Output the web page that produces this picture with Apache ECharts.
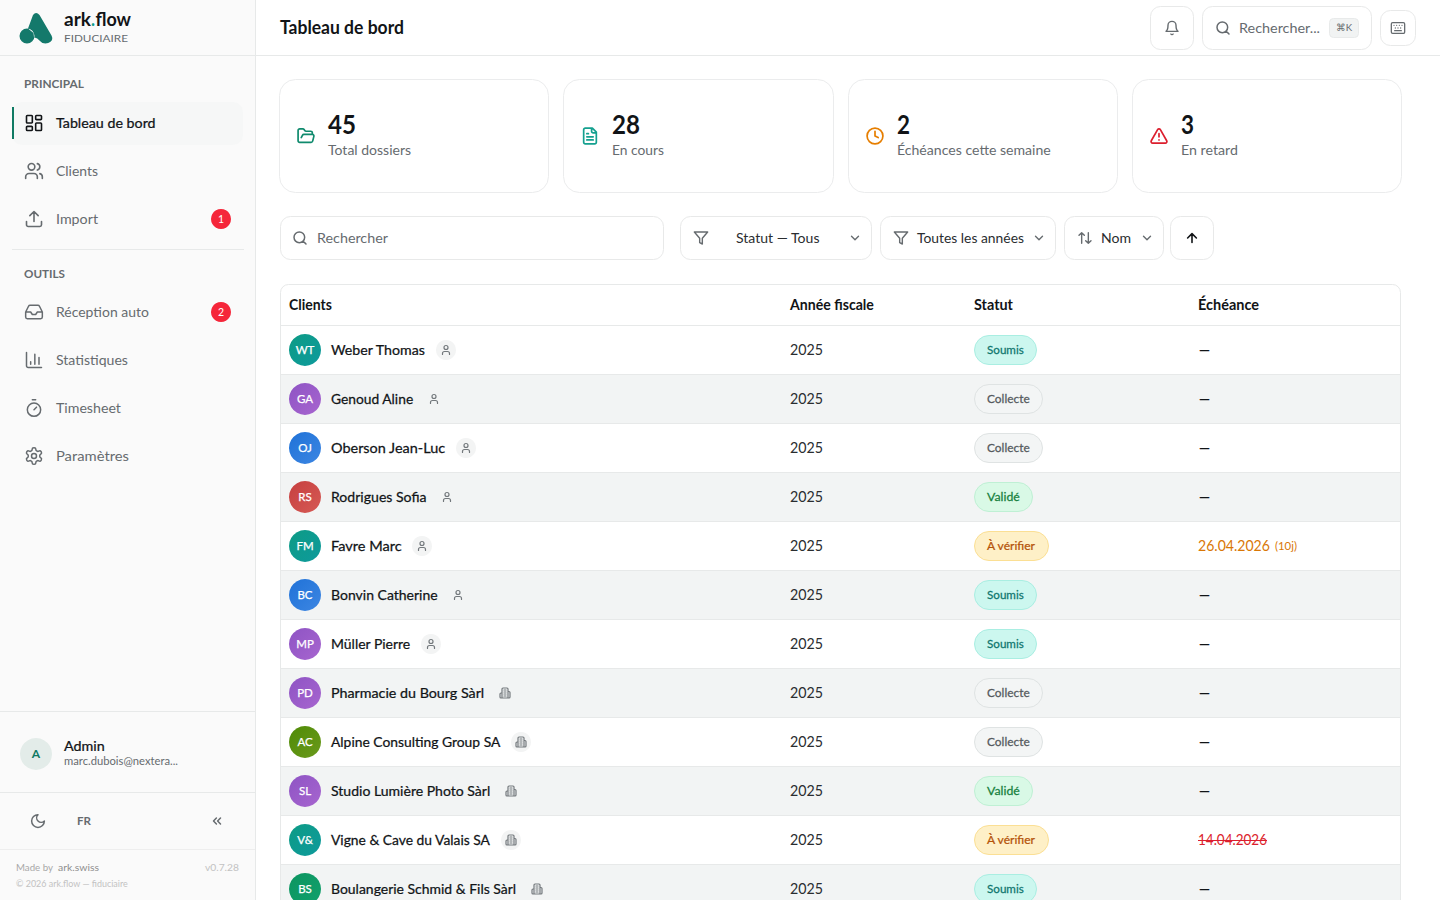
<!DOCTYPE html>
<html lang="fr"><head><meta charset="utf-8"><title>Tableau de bord</title>
<style>html,body{margin:0;padding:0;background:#fff;overflow:hidden}#c{width:1440px;height:900px}</style>
<script src="https://cdn.jsdelivr.net/npm/echarts@6/dist/echarts.min.js"></script></head>
<body><div id="c"></div>
<script>
// ---- data ----
const clients = ['Weber Thomas','Genoud Aline','Oberson Jean-Luc','Rodrigues Sofia','Favre Marc','Bonvin Catherine','Müller Pierre','Pharmacie du Bourg Sàrl','Alpine Consulting Group SA','Studio Lumière Photo Sàrl','Vigne & Cave du Valais SA','Boulangerie Schmid & Fils Sàrl'];
const initials = ['WT','GA','OJ','RS','FM','BC','MP','PD','AC','SL','V&','BS'];
const clientKinds = ['person','person','person','person','person','person','person','company','company','company','company','company'];
const fiscalYears = ['2025','2025','2025','2025','2025','2025','2025','2025','2025','2025','2025','2025'];
const statuses = ['Soumis','Collecte','Collecte','Validé','À vérifier','Soumis','Soumis','Collecte','Collecte','Validé','À vérifier','Soumis'];
const deadlines = ['—','—','—','—','26.04.2026','—','—','—','—','—','14.04.2026','—'];
const deadlineNotes = ['','','','','(10j)','','','','','','',''];
const deadlineStates = ['','','','','soon','','','','','','late',''];
const avatarHues = ['teal','purple','blue','red','teal','blue','purple','purple','olive','purple','teal','green'];
const tableHeaders = ['Clients','Année fiscale','Statut','Échéance'];
const kpiValues = ['45','28','2','3'];
const kpiLabels = ['Total dossiers','En cours','Échéances cette semaine','En retard'];
const navMain = ['Tableau de bord','Clients','Import'];
const navTools = ['Réception auto','Statistiques','Timesheet','Paramètres'];
const importBadge = '1', inboxBadge = '2';

// ---- styles ----
const FONT = 'Lato';
const INK = '#111417', MUTED = '#666b6f', LINE = '#e7e9e9', TEAL = '#0f766e';
const HUES = {teal:['#0d9b85','#0e9a9c'],purple:['#8e54c4','#a765cf'],blue:['#1f72d8','#3d86e2'],red:['#c63f3f','#d65a55'],olive:['#4f8a06','#6a9a1c'],green:['#0b9560','#12a06c']};
const PILLS = {
  'Soumis':{w:63,bg:'#ccf7ef',bd:'#a9eee2',fg:'#0f766e'},
  'Collecte':{w:69,bg:'#f3f5f5',bd:'#dfe3e3',fg:'#555a5e'},
  'Validé':{w:59,bg:'#d9f9e6',bd:'#bff0d4',fg:'#15803d'},
  'À vérifier':{w:75,bg:'#fef0c7',bd:'#fbdf94',fg:'#b45309'}
};
const columnOffsets = [9,510,694,918];
const NAME_SIZE = 14;
const labelFit = [95,83,115,96,71,107,80,154,170,160,160,186];
const ICONS = {
 dash:'M4 3h5a1 1 0 0 1 1 1v7a1 1 0 0 1-1 1H4a1 1 0 0 1-1-1V4a1 1 0 0 1 1-1zM15 3h5a1 1 0 0 1 1 1v3a1 1 0 0 1-1 1h-5a1 1 0 0 1-1-1V4a1 1 0 0 1 1-1zM15 12h5a1 1 0 0 1 1 1v7a1 1 0 0 1-1 1h-5a1 1 0 0 1-1-1v-7a1 1 0 0 1 1-1zM4 16h5a1 1 0 0 1 1 1v3a1 1 0 0 1-1 1H4a1 1 0 0 1-1-1v-3a1 1 0 0 1 1-1z',
 users:'M16 21v-2a4 4 0 0 0-4-4H6a4 4 0 0 0-4 4v2M16 3.128a4 4 0 0 1 0 7.744M22 21v-2a4 4 0 0 0-3-3.87M5 7a4 4 0 1 0 8 0a4 4 0 1 0-8 0',
 upload:'M21 15v4a2 2 0 0 1-2 2H5a2 2 0 0 1-2-2v-4M17 8l-5-5-5 5M12 3v12',
 inbox:'M22 12h-6l-2 3h-4l-2-3H2M5.45 5.11 2 12v6a2 2 0 0 0 2 2h16a2 2 0 0 0 2-2v-6l-3.45-6.89A2 2 0 0 0 16.76 4H7.24a2 2 0 0 0-1.79 1.11z',
 chart:'M3 3v16a2 2 0 0 0 2 2h16M18 17V9M13 17V5M8 17v-3',
 timer:'M10 2h4M12 14l3-3M4 14a8 8 0 1 0 16 0a8 8 0 1 0-16 0',
 gear:'M12.22 2h-.44a2 2 0 0 0-2 2v.18a2 2 0 0 1-1 1.73l-.43.25a2 2 0 0 1-2 0l-.15-.08a2 2 0 0 0-2.73.73l-.22.38a2 2 0 0 0 .73 2.73l.15.1a2 2 0 0 1 1 1.72v.51a2 2 0 0 1-1 1.74l-.15.09a2 2 0 0 0-.73 2.73l.22.38a2 2 0 0 0 2.73.73l.15-.08a2 2 0 0 1 2 0l.43.25a2 2 0 0 1 1 1.73V20a2 2 0 0 0 2 2h.44a2 2 0 0 0 2-2v-.18a2 2 0 0 1 1-1.73l.43-.25a2 2 0 0 1 2 0l.15.08a2 2 0 0 0 2.73-.73l.22-.39a2 2 0 0 0-.73-2.73l-.15-.08a2 2 0 0 1-1-1.74v-.5a2 2 0 0 1 1-1.74l.15-.09a2 2 0 0 0 .73-2.73l-.22-.38a2 2 0 0 0-2.73-.73l-.15.08a2 2 0 0 1-2 0l-.43-.25a2 2 0 0 1-1-1.73V4a2 2 0 0 0-2-2zM9 12a3 3 0 1 0 6 0a3 3 0 1 0-6 0',
 moon:'M12 3a6 6 0 0 0 9 9 9 9 0 1 1-9-9Z',
 chevs:'M11 17l-5-5 5-5M18 17l-5-5 5-5',
 bell:'M6 8a6 6 0 0 1 12 0c0 7 3 9 3 9H3s3-2 3-9M10.3 21a1.94 1.94 0 0 0 3.4 0',
 search:'M3 11a8 8 0 1 0 16 0a8 8 0 1 0-16 0M21 21l-4.3-4.3',
 keyboard:'M4 4h16a2 2 0 0 1 2 2v12a2 2 0 0 1-2 2H4a2 2 0 0 1-2-2V6a2 2 0 0 1 2-2zM6 8h.01M10 8h.01M14 8h.01M18 8h.01M8 12h.01M12 12h.01M16 12h.01M7 16h10',
 folder:'M6 14l1.5-2.9A2 2 0 0 1 9.24 10H20a2 2 0 0 1 1.94 2.5l-1.54 6a2 2 0 0 1-1.95 1.5H4a2 2 0 0 1-2-2V5a2 2 0 0 1 2-2h3.9a2 2 0 0 1 1.69.9l.81 1.2a2 2 0 0 0 1.67.9H18a2 2 0 0 1 2 2v2',
 file:'M15 2H6a2 2 0 0 0-2 2v16a2 2 0 0 0 2 2h12a2 2 0 0 0 2-2V7ZM14 2v4a2 2 0 0 0 2 2h4M10 9H8M16 13H8M16 17H8',
 clock:'M2 12a10 10 0 1 0 20 0a10 10 0 1 0-20 0M12 6v6l4 2',
 alert:'M21.73 18l-8-14a2 2 0 0 0-3.48 0l-8 14A2 2 0 0 0 4 21h16a2 2 0 0 0 1.73-3M12 9v4M12 17h.01',
 funnel:'M22 3H2l8 9.46V19l4 2v-8.54L22 3z',
 chevron:'M6 9l6 6 6-6',
 sort:'M21 16l-4 4-4-4M17 20V4M3 8l4-4 4 4M7 4v16',
 up:'M5 12l7-7 7 7M12 19V5',
 user:'M19 21v-2a4 4 0 0 0-4-4H9a4 4 0 0 0-4 4v2M8 7a4 4 0 1 0 8 0a4 4 0 1 0-8 0',
 company:'M6 22V4a2 2 0 0 1 2-2h8a2 2 0 0 1 2 2v18ZM6 12H4a2 2 0 0 0-2 2v6a2 2 0 0 0 2 2h2M18 9h2a2 2 0 0 1 2 2v9a2 2 0 0 1-2 2h-2M10 6h4M10 10h4M10 14h4M10 18h4'
};
const LOGO = 'M33 15Q36 11 39.5 15L51.5 35.5Q53.5 39.5 50.5 41.8Q48.5 43.5 45.5 43.5Q42 43.5 40 41Q37.5 37.6 34 37.2L33.5 33L28 28.6ZM19.5 36a7.5 7.5 0 1 0 15 0a7.5 7.5 0 1 0-15 0';

// ---- helpers ----
const mctx = document.createElement('canvas').getContext('2d');
function measure(s,size,weight){mctx.font=weight+' '+size+'px '+FONT;return mctx.measureText(s).width;}
function T(s,x,y,size,weight,fill,w){
  const k = w ? w/measure(s,size,weight) : 1;
  const medium = weight===500;
  return {type:'text',x:x,y:y-0.7,scaleX:k,z2:5,style:{text:s,x:0,y:0,fill:fill,stroke:medium?fill:'none',lineWidth:medium?0.25:0,fontFamily:FONT,fontSize:size,fontWeight:medium?400:weight,textAlign:'left',textVerticalAlign:'middle'}};
}
function TC(s,cx,y,size,weight,fill){
  const medium = weight===500;
  return {type:'text',x:cx,y:y-0.2,z2:5,style:{text:s,x:0,y:0,fill:fill,stroke:medium?fill:'none',lineWidth:medium?0.25:0,fontFamily:FONT,fontSize:size,fontWeight:medium?400:weight,textAlign:'center',textVerticalAlign:'middle'}};
}
function icon(name,cx,cy,size,color,lw){
  return {type:'path',z2:4,shape:{pathData:'M0 0M24 24'+ICONS[name],x:cx-size/2,y:cy-size/2,width:size,height:size,layout:'cover'},style:{fill:'none',stroke:color,lineWidth:lw||1.5,lineCap:'round',lineJoin:'round'}};
}
function box(x,y,w,h,r,fill,stroke){return {type:'rect',z2:2,shape:{x:x,y:y,width:w,height:h,r:r},style:{fill:fill||'none',stroke:stroke||'none',lineWidth:stroke?1:0}};}
function hline(x1,x2,y,c){return {type:'line',z2:3,shape:{x1:x1,y1:y,x2:x2,y2:y},style:{stroke:c||LINE,lineWidth:1}};}
function vline(x,y1,y2,c){return {type:'line',z2:3,shape:{x1:x,y1:y1,x2:x,y2:y2},style:{stroke:c||LINE,lineWidth:1}};}

// ---- static page furniture ----
function renderChrome(){
  const c = [];
  // sidebar
  c.push(box(0,0,255,900,0,'#fafafa'));
  c.push(vline(255.5,0,900));
  c.push(hline(0,255,55.5), hline(256,1440,55.5));
  c.push({type:'path',z2:4,shape:{pathData:'M0 0M60 60'+LOGO,x:0,y:0,width:60,height:60,layout:'cover'},style:{fill:'#14796b'}});
  c.push(T('ark',64,20,18,700,INK,27), T('.',91,20,18,700,'#0f9d8a',4), T('flow',95.5,20,18,700,INK,35.5));
  c.push(T('FIDUCIAIRE',64,38.5,10,400,MUTED,64));
  c.push(T('PRINCIPAL',24,84.5,10.5,700,MUTED,60));
  c.push(box(12,102,231,43,10,'#f6f7f7'));
  c.push({type:'rect',z2:3,shape:{x:12,y:107,width:2,height:32},style:{fill:'#0f7a63'}});
  const mainIcons=['dash','users','upload'], mainY=[123,171,219], mainW=[100,42,42];
  navMain.forEach((s,i)=>{
    c.push(icon(mainIcons[i],34,mainY[i],20,i?MUTED:INK,1.6));
    c.push(T(s,56,mainY[i],14,i?400:500,i?MUTED:INK,mainW[i]));
  });
  c.push({type:'circle',z2:3,shape:{cx:221,cy:219,r:10},style:{fill:'#f5263a'}}, TC(importBadge,221,219,10.5,400,'#fff'));
  c.push(hline(12,244,249.5));
  c.push(T('OUTILS',24,274.5,10.5,700,MUTED,41));
  const toolIcons=['inbox','chart','timer','gear'], toolY=[312,360,408,456], toolW=[93,72,65,73];
  navTools.forEach((s,i)=>{
    c.push(icon(toolIcons[i],34,toolY[i],20,MUTED,1.5));
    c.push(T(s,56,toolY[i],14,400,MUTED,toolW[i]));
  });
  c.push({type:'circle',z2:3,shape:{cx:221,cy:312,r:10},style:{fill:'#f5263a'}}, TC(inboxBadge,221,312,10.5,400,'#fff'));
  c.push(hline(0,255,711.5));
  c.push({type:'circle',z2:3,shape:{cx:36,cy:754,r:16},style:{fill:'#e3ece9'}}, TC('A',36,754,12,700,'#0f7a63'));
  c.push(T('Admin',64,746,14,500,INK,41), T('marc.dubois@nextera...',64,761,11,400,MUTED,114));
  c.push(hline(0,255,792.5));
  c.push(icon('moon',38,821,17,MUTED,1.5), T('FR',77,821,12,700,MUTED,14), icon('chevs',217,821,14,MUTED,1.5));
  c.push(hline(0,255,849.5,'#eeeeee'));
  c.push(T('Made by',16,868,10,400,'#a8a8a8',37), T('ark.swiss',58,868,10,400,'#8f8f8f',41), T('v0.7.28',205,868,10,400,'#c2c2c2',34));
  c.push(T('© 2026 ark.flow — fiduciaire',16,884,9.5,400,'#c2c2c2',112));
  // header
  c.push(T('Tableau de bord',280,27.5,19,700,INK,124));
  c.push(box(1150.5,6.5,43,43,10,'#fff','#e8e9e9'), icon('bell',1172,28,16,MUTED,1.4));
  c.push(box(1202.5,6.5,169,43,10,'#fff','#e8e9e9'), icon('search',1223,28,16,MUTED,1.5));
  c.push(T('Rechercher...',1239,28,14,400,MUTED,81));
  c.push(box(1329.5,18.5,29,19,4,'#f1f3f3','#e8eaea'), T('⌘K',1336,27.5,10,400,MUTED,16));
  c.push(box(1380.5,10.5,35,35,10,'#fff','#e8e9e9'), icon('keyboard',1398,28,16,MUTED,1.3));
  // KPI cards
  const cardX=[279.5,563.5,848.5,1132.5], cardW=[269,270,269,269];
  const kIcons=[['folder','#0f8a6d'],['file','#14a08f'],['clock','#e67e00'],['alert','#dc1f2e']];
  const numW=[28,28,13,13], labW=[83,52,154,57];
  kpiValues.forEach((v,i)=>{
    const x=cardX[i];
    c.push(box(x,79.5,cardW[i],113,16,'#fff','#ebeced'));
    c.push(icon(kIcons[i][0],x+26.5,136,19,kIcons[i][1],1.7));
    c.push(T(v,x+48.5,124.5,26,700,INK,numW[i]));
    c.push(T(kpiLabels[i],x+48.5,150.5,14,400,MUTED,labW[i]));
  });
  // filter bar
  c.push(box(280.5,216.5,383,43,10,'#fff','#e8e9e9'), icon('search',300,238,16,MUTED,1.5), T('Rechercher',317,238,14,400,MUTED,71));
  c.push(box(680.5,216.5,191,43,10,'#fff','#e8e9e9'), icon('funnel',701,238,16,MUTED,1.4), T('Statut — Tous',736,238,14,400,'#2a2d30',84), icon('chevron',855,238,14,MUTED,1.4));
  c.push(box(880.5,216.5,175,43,10,'#fff','#e8e9e9'), icon('funnel',901,238,16,MUTED,1.4), T('Toutes les années',917,238,14,400,'#2a2d30',107), icon('chevron',1039,238,14,MUTED,1.4));
  c.push(box(1064.5,216.5,99,43,10,'#fff','#e8e9e9'), icon('sort',1085,238,16,MUTED,1.4), T('Nom',1101,238,14,400,'#2a2d30',30), icon('chevron',1147,238,14,MUTED,1.4));
  c.push(box(1170.5,216.5,43,43,10,'#fff','#e8e9e9'), icon('up',1192,238,15,INK,1.6));
  // table frame and header
  c.push({type:'path',z2:3,shape:{pathData:'M0 0M1440 900M280.5 900V292.5a8 8 0 0 1 8-8H1392.5a8 8 0 0 1 8 8V900',x:0,y:0,width:1440,height:900,layout:'cover'},style:{fill:'none',stroke:'#e7e9e9',lineWidth:1}});
  c.push(hline(281,1400,325.5));
  const headW=[43,84,39,61];
  tableHeaders.forEach((h,i)=>c.push(T(h,280+columnOffsets[i],305,14.5,700,INK,headW[i])));
  return {type:'group',children:c};
}

// ---- table rows, placed through the category axis ----
function renderRow(params,api){
  const i = api.value(1);
  const p = api.coord([0,i]);
  const band = api.size([0,1])[1];
  const cy = p[1];
  const X = n => api.coord([columnOffsets[n],i])[0];
  const c = [];
  if(i%2===1) c.push(box(281,cy-band/2+0.5,1119,band-1,0,'#f2f4f4'));
  c.push(hline(281,1400,cy+band/2));
  const hue = HUES[avatarHues[i]];
  c.push({type:'circle',z2:3,shape:{cx:X(0)+16,cy:cy,r:16},style:{fill:{type:'linear',x:0,y:0,x2:1,y2:1,colorStops:[{offset:0,color:hue[0]},{offset:1,color:hue[1]}]}}});
  c.push(TC(initials[i],X(0)+16,cy,11.5,500,'#fff'));
  const nw = labelFit[i];
  c.push(T(clients[i],X(0)+42,cy,NAME_SIZE,500,INK,nw));
  const chipX = X(0)+42+nw+20;
  if(i%2===0) c.push({type:'circle',z2:3,shape:{cx:chipX,cy:cy,r:10},style:{fill:'#f3f4f4'}});
  c.push(icon(clientKinds[i]==='person'?'user':'company',chipX,cy,12,'#73787c',1.2));
  c.push(T(fiscalYears[i],X(1),cy+0.5,14.5,400,'#2a2d30',33));
  const st = PILLS[statuses[i]];
  c.push(box(X(2)+0.5,cy-14.5,st.w-1,29,14.5,st.bg,st.bd));
  c.push(T(statuses[i],X(2)+13,cy,12,500,st.fg,st.w-26));
  const state = deadlineStates[i];
  if(state==='soon'){
    c.push(T(deadlines[i],X(3),cy,14.5,400,'#d97706',72));
    c.push(T(deadlineNotes[i],X(3)+77,cy+0.5,11,400,'#d97706',22));
  }else if(state==='late'){
    c.push(T(deadlines[i],X(3),cy,14.5,400,'#dc1f2e',69));
    c.push(hline(X(3),X(3)+69,cy+0.5,'#dc1f2e'));
  }else{
    c.push(T(deadlines[i],X(3)+1,cy+0.5,14.5,500,INK,11));
  }
  return {type:'group',children:c};
}

const chart = echarts.init(document.getElementById('c'),null,{renderer:'svg',width:1440,height:900});
chart.setOption({
  animation:false, backgroundColor:'#ffffff', tooltip:{show:false},
  grid:{left:280,top:325.5,width:1120,height:12*49,containLabel:false,outerBoundsMode:'none'},
  xAxis:{type:'value',min:0,max:1120,show:false},
  yAxis:{type:'category',inverse:true,show:false,data:clients,boundaryGap:true},
  series:[
    {type:'custom',name:'page',coordinateSystem:'none',silent:true,z:1,clip:false,data:[[0]],renderItem:renderChrome},
    {type:'custom',name:'dossiers',coordinateSystem:'cartesian2d',silent:true,z:2,clip:false,encode:{x:0,y:1},data:clients.map((n,i)=>[0,i]),renderItem:renderRow}
  ]
});
</script></body></html>
